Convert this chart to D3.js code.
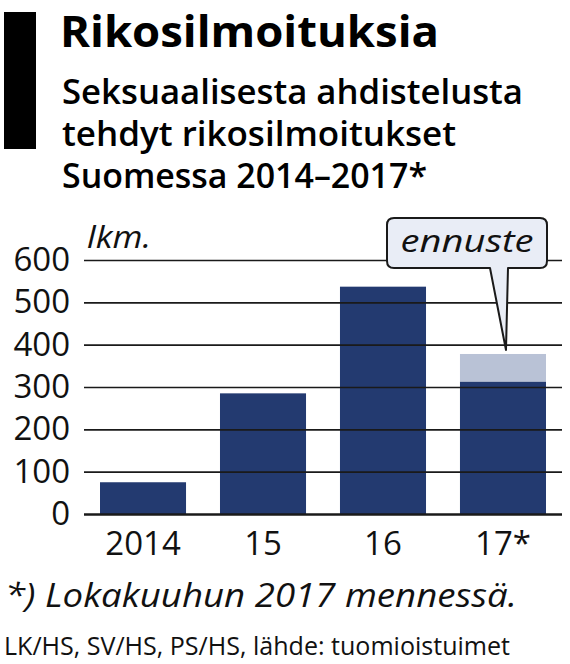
<!DOCTYPE html>
<html>
<head>
<meta charset="utf-8">
<script src="https://cdn.jsdelivr.net/npm/d3@7"></script>
<style>
  body { margin: 0; background: #fff; }
  svg { display: block; font-family: "Open Sans", "Noto Sans", sans-serif; }
</style>
</head>
<body>
<script>
// data
var years = ["2014", "15", "16", "17*"];
var reported = [75, 285, 537, 313];     // tehdyt ilmoitukset
var forecast = [0, 0, 0, 65];           // ennuste, stacked on top
var yTicks = [0, 100, 200, 300, 400, 500, 600];

var width = 570,
    height = 664;

var svg = d3.select("body").append("svg")
    .attr("width", width)
    .attr("height", height);

// black marker bar + headings
svg.append("rect")
  .attr("x", 4).attr("y", 12)
  .attr("width", 32).attr("height", 137)
  .attr("fill", "#000");

svg.append("text")
  .attr("x", 60).attr("y", 47)
  .attr("font-size", 43).attr("font-weight", 700)
  .attr("textLength", 379).attr("lengthAdjust", "spacingAndGlyphs")
  .text("Rikosilmoituksia");

var subtitle = ["Seksuaalisesta ahdistelusta", "tehdyt rikosilmoitukset", "Suomessa 2014\u20132017*"];
var subWidths = [461, 394, 365];
svg.selectAll(".sub")
  .data(subtitle)
  .enter().append("text")
  .attr("class", "sub")
  .attr("x", 62)
  .attr("y", function(d, i) { return 104 + i * 42; })
  .attr("font-size", 34)
  .attr("font-weight", 600)
  .attr("textLength", function(d, i) { return subWidths[i]; })
  .attr("lengthAdjust", "spacingAndGlyphs")
  .text(function(d) { return d; });

// scales
var x = d3.scaleBand()
    .domain(years)
    .range([100, 546])
    .paddingInner(0.283)
    .paddingOuter(0);

var y = d3.scaleLinear()
    .domain([0, 600])
    .range([514, 260]);

// bars
var data = years.map(function(d, i) {
  return { year: d, reported: reported[i], forecast: forecast[i] };
});

svg.append("g").selectAll("rect")
  .data(data)
  .enter().append("rect")
  .attr("x", function(d) { return x(d.year); })
  .attr("width", x.bandwidth())
  .attr("y", function(d) { return y(d.reported); })
  .attr("height", function(d) { return y(0) - y(d.reported); })
  .attr("fill", "#233a70");

svg.append("g").selectAll("rect")
  .data(data.filter(function(d) { return d.forecast > 0; }))
  .enter().append("rect")
  .attr("x", function(d) { return x(d.year); })
  .attr("width", x.bandwidth())
  .attr("y", function(d) { return y(d.reported + d.forecast); })
  .attr("height", function(d) { return y(d.reported) - y(d.reported + d.forecast); })
  .attr("fill", "#b9c2d6");

// gridlines + y labels (drawn over bars)
var yAxis = d3.axisLeft(y)
  .tickValues(yTicks)
  .tickSize(478)
  .tickPadding(14);

var gy = svg.append("g")
  .attr("transform", "translate(562,0)")
  .call(yAxis);
gy.select(".domain").remove();
gy.selectAll("line")
  .attr("stroke", "#1a1a1a")
  .attr("stroke-width", function(d) { return d === 0 ? 2.4 : 1.6; });
gy.selectAll("text")
  .attr("font-size", 33)
  .attr("font-family", "Open Sans, sans-serif")
  .attr("fill", "#111");

svg.append("text")
  .attr("x", 87).attr("y", 248)
  .attr("font-size", 31).attr("font-style", "italic")
  .attr("textLength", 64).attr("lengthAdjust", "spacingAndGlyphs")
  .attr("fill", "#111")
  .text("lkm.");

// x labels
var xAxis = d3.axisBottom(x).tickSize(0).tickPadding(18);
var gx = svg.append("g")
  .attr("transform", "translate(0,514)")
  .call(xAxis);
gx.select(".domain").remove();
gx.selectAll("text")
  .attr("font-size", 33)
  .attr("font-family", "Open Sans, sans-serif")
  .attr("fill", "#111");

// callout "ennuste"
var last = data[data.length - 1];
var tipX = x(last.year) + x.bandwidth() / 2 + 3,
    tipY = y(last.reported + last.forecast) - 4;
var box = { x: 387, y: 218, w: 160, h: 50, r: 7 };

var callout = svg.append("g");
callout.append("path")
  .attr("d", "M" + (box.x + box.r) + "," + box.y +
    "H" + (box.x + box.w - box.r) +
    "Q" + (box.x + box.w) + "," + box.y + " " + (box.x + box.w) + "," + (box.y + box.r) +
    "V" + (box.y + box.h - box.r) +
    "Q" + (box.x + box.w) + "," + (box.y + box.h) + " " + (box.x + box.w - box.r) + "," + (box.y + box.h) +
    "H" + 508 +
    "L" + tipX + "," + tipY +
    "L" + 490 + "," + (box.y + box.h) +
    "H" + (box.x + box.r) +
    "Q" + box.x + "," + (box.y + box.h) + " " + box.x + "," + (box.y + box.h - box.r) +
    "V" + (box.y + box.r) +
    "Q" + box.x + "," + box.y + " " + (box.x + box.r) + "," + box.y + "Z")
  .attr("fill", "#e9edf6")
  .attr("stroke", "#1a1a1a")
  .attr("stroke-width", 2)
  .attr("stroke-linejoin", "round");

callout.append("text")
  .attr("x", box.x + box.w / 2).attr("y", 252)
  .attr("text-anchor", "middle")
  .attr("font-size", 31).attr("font-style", "italic")
  .attr("textLength", 133).attr("lengthAdjust", "spacingAndGlyphs")
  .attr("fill", "#111")
  .text("ennuste");

// footnote + source
svg.append("text")
  .attr("x", 5).attr("y", 607)
  .attr("font-size", 33).attr("font-style", "italic")
  .attr("textLength", 512).attr("lengthAdjust", "spacingAndGlyphs")
  .attr("fill", "#111")
  .text("*) Lokakuuhun 2017 mennessä.");

svg.append("text")
  .attr("x", 4).attr("y", 655)
  .attr("font-size", 25).attr("font-weight", 500)
  .attr("textLength", 506).attr("lengthAdjust", "spacingAndGlyphs")
  .attr("fill", "#111")
  .text("LK/HS, SV/HS, PS/HS, lähde: tuomioistuimet");
</script>
</body>
</html>
